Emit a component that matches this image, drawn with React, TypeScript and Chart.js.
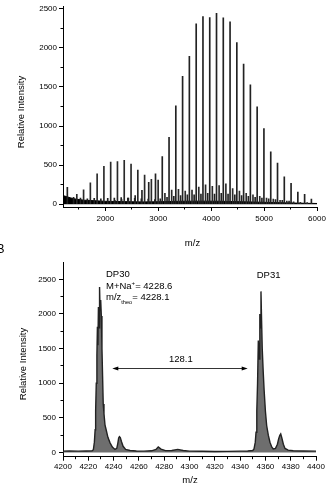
import React, { useEffect, useRef } from 'react';
import { Chart, registerables } from 'chart.js';

Chart.register(...registerables);

const FONT = '"Liberation Sans", Arial, Helvetica, sans-serif';

// ---------- Panel A: full MALDI spectrum ----------
const mainPeakMz = [1282, 2180, 2308, 2436, 2564, 2692, 2820, 2948, 3076, 3204, 3332, 3460, 3588, 3717, 3845, 3973, 4101, 4229, 4357, 4485, 4613, 4741, 4869, 4997, 5126, 5254, 5382, 5510, 5638, 5766, 5894];
const mainPeakIntensity = [217, 50, 60, 80, 110, 177, 279, 390, 609, 855, 1259, 1637, 1893, 2308, 2399, 2386, 2440, 2383, 2333, 2069, 1794, 1526, 1247, 967, 670, 526, 350, 267, 156, 127, 65];

const satPeakMz = [1461, 1589, 1717, 1845, 1973, 2101, 2229, 2357, 2486, 2614, 2742, 2870, 2998, 3126, 3254, 3382, 3510, 3638, 3766, 3894, 4022, 4150, 4278, 4406, 4534, 4662, 4790, 4918, 5046, 5174, 5302, 5430, 5558, 5686, 5814];
const satPeakIntensity = [127, 185, 275, 390, 485, 538, 547, 563, 514, 436, 374, 320, 309, 140, 180, 190, 170, 180, 220, 250, 230, 240, 260, 200, 170, 140, 120, 100, 80, 65, 50, 40, 30, 25, 20];

const smallPeakMz = [1400, 1530, 1660, 1790, 1915, 2045, 2170, 2300, 2425, 2555, 2680, 2810, 2935, 3038, 3166, 3294, 3422, 3550, 3678, 3807, 3935, 4063, 4191, 4319, 4447, 4575, 4703, 4831, 4959, 5087, 5216, 5344, 5472];
const smallPeakIntensity = [90, 80, 70, 75, 70, 75, 80, 85, 80, 75, 70, 65, 60, 70, 90, 100, 110, 120, 120, 130, 140, 130, 140, 130, 120, 110, 100, 90, 80, 70, 60, 50, 40];

const baselineMz = [1200, 1230, 1280, 1350, 1450, 1600, 1800, 2000, 2300, 2700, 3000, 3400, 3800, 4200, 4600, 5000, 5400, 5800, 6000];
const baselineIntensity = [120, 105, 95, 80, 65, 52, 45, 38, 34, 30, 32, 38, 40, 38, 32, 25, 18, 12, 10];

const topXTicks = [2000, 3000, 4000, 5000, 6000];
const topXMinor = [1500, 2500, 3500, 4500, 5500];
const topYTicks = [0, 500, 1000, 1500, 2000, 2500];
const topYMinor = [250, 750, 1250, 1750, 2250];

// ---------- Panel B: zoom on DP30 / DP31 ----------
const zoomMz = [4200, 4205, 4212, 4218, 4223, 4224, 4224.8, 4225.4, 4225.8, 4226.3, 4226.8, 4227.2, 4227.6, 4228.0, 4228.5, 4228.9, 4229.3, 4229.8, 4230.3, 4230.8, 4231.3, 4231.8, 4232.4, 4233.2, 4234.2, 4235.5, 4237.2, 4239, 4241.1, 4242.5, 4243.3, 4244.0, 4244.6, 4245.3, 4246.2, 4247.5, 4249.5, 4253, 4258, 4264, 4270, 4273.5, 4275.3, 4277.5, 4281, 4286, 4290.7, 4295, 4300, 4310, 4320, 4330, 4340, 4346, 4350, 4351, 4352, 4352.6, 4353.2, 4353.8, 4354.4, 4355, 4355.6, 4356.1, 4356.5, 4357, 4357.5, 4358.3, 4359, 4360, 4361, 4362.3, 4363.6, 4365, 4366.2, 4368, 4369.5, 4370.5, 4371.4, 4372.1, 4373, 4374.2, 4375.5, 4378, 4382, 4390, 4400];
const zoomIntensity = [20, 22, 20, 22, 24, 40, 150, 330, 600, 1000, 1400, 1815, 1550, 2100, 1800, 2389, 2050, 2200, 1970, 1500, 1100, 700, 560, 400, 322, 220, 140, 80, 45, 60, 130, 210, 230, 215, 160, 90, 45, 30, 22, 20, 25, 45, 81, 50, 28, 30, 45, 30, 20, 18, 15, 17, 20, 22, 30, 52, 150, 293, 600, 1000, 1618, 1350, 2000, 1800, 2326, 1900, 1500, 1160, 900, 600, 390, 250, 149, 80, 52, 60, 120, 200, 250, 269, 210, 120, 60, 35, 25, 22, 20];

const bottomXTicks = [4200, 4220, 4240, 4260, 4280, 4300, 4320, 4340, 4360, 4380, 4400];
const bottomXMinor = [4210, 4230, 4250, 4270, 4290, 4310, 4330, 4350, 4370, 4390];
const bottomYTicks = [0, 500, 1000, 1500, 2000, 2500];
const bottomYMinor = [250, 750, 1250, 1750, 2250];

const spacingFrom = 4239;
const spacingTo = 4346;
const spacingLevel = 1210;

const pts = (xs: number[], ys: number[]) => xs.map((x, i) => ({ x, y: ys[i] }));

const align = (p: number) => Math.round(p - 0.5) + 0.5;

const extrasPlugin = {
  id: 'extras',
  afterDraw(chart: any, _args: any, opts: any) {
    const { ctx, chartArea } = chart;
    const xs = chart.scales.x;
    const ys = chart.scales.y;
    ctx.save();
    ctx.strokeStyle = '#000';
    ctx.lineWidth = 1;
    for (const v of opts.minorX || []) {
      const px = align(xs.getPixelForValue(v));
      ctx.beginPath();
      ctx.moveTo(px, chartArea.bottom);
      ctx.lineTo(px, chartArea.bottom + 2.5);
      ctx.stroke();
    }
    for (const v of opts.minorY || []) {
      const py = align(ys.getPixelForValue(v));
      ctx.beginPath();
      ctx.moveTo(chartArea.left, py);
      ctx.lineTo(chartArea.left - 2.5, py);
      ctx.stroke();
    }
    if (opts.arrow) {
      const a = opts.arrow;
      const x1 = xs.getPixelForValue(a.from);
      const x2 = xs.getPixelForValue(a.to);
      const y = align(ys.getPixelForValue(a.level));
      ctx.lineWidth = 0.8;
      ctx.beginPath();
      ctx.moveTo(x1 + 3, y);
      ctx.lineTo(x2 - 3, y);
      ctx.stroke();
      ctx.fillStyle = '#000';
      ctx.beginPath();
      ctx.moveTo(x1, y);
      ctx.lineTo(x1 + 6, y - 2);
      ctx.lineTo(x1 + 6, y + 2);
      ctx.closePath();
      ctx.fill();
      ctx.beginPath();
      ctx.moveTo(x2, y);
      ctx.lineTo(x2 - 6, y - 2);
      ctx.lineTo(x2 - 6, y + 2);
      ctx.closePath();
      ctx.fill();
    }
    for (const t of opts.titles || []) {
      ctx.save();
      ctx.fillStyle = '#000';
      ctx.font = `${t.size}px ${FONT}`;
      ctx.textAlign = 'center';
      ctx.textBaseline = 'alphabetic';
      ctx.translate(t.x, t.y);
      if (t.rotate) ctx.rotate(-Math.PI / 2);
      ctx.fillText(t.text, 0, 0);
      ctx.restore();
    }
    ctx.restore();
  },
};

function xScale(min: number, max: number, ticks: number[], height: number, pad: number) {
  return {
    type: 'linear',
    min,
    max,
    offset: false,
    afterBuildTicks: (s: any) => {
      s.ticks = ticks.map((v) => ({ value: v }));
    },
    afterFit: (s: any) => {
      s.height = height;
    },
    grid: { display: true, drawOnChartArea: false, drawTicks: true, tickLength: 4, offset: false, color: '#000', tickColor: '#000', tickWidth: 1 },
    border: { display: true, color: '#000', width: 1 },
    ticks: { color: '#000', font: { family: FONT, size: 8 }, padding: pad, maxRotation: 0, autoSkip: false, callback: (v: any) => String(v) },
  };
}

function yScale(min: number, max: number, ticks: number[], width: number, pad: number) {
  return {
    type: 'linear',
    min,
    max,
    afterBuildTicks: (s: any) => {
      s.ticks = ticks.map((v) => ({ value: v }));
    },
    afterFit: (s: any) => {
      s.width = width;
    },
    grid: { display: true, drawOnChartArea: false, drawTicks: true, tickLength: 4, color: '#000', tickColor: '#000', tickWidth: 1 },
    border: { display: true, color: '#000', width: 1 },
    ticks: { color: '#000', font: { family: FONT, size: 8 }, padding: pad, autoSkip: false, callback: (v: any) => String(v) },
  };
}

export default function App() {
  const topRef = useRef<HTMLCanvasElement>(null);
  const botRef = useRef<HTMLCanvasElement>(null);

  useEffect(() => {
    const top = new Chart(topRef.current as HTMLCanvasElement, {
      type: 'bar',
      data: {
        datasets: [
          {
            type: 'line',
            data: pts(baselineMz, baselineIntensity),
            borderColor: '#000',
            backgroundColor: '#000',
            borderWidth: 1,
            pointRadius: 0,
            fill: 'origin',
            order: 4,
          } as any,
          { type: 'bar', data: pts(smallPeakMz, smallPeakIntensity), backgroundColor: '#222', barThickness: 1, grouped: false, order: 3 } as any,
          { type: 'bar', data: pts(satPeakMz, satPeakIntensity), backgroundColor: '#2a2a2a', barThickness: 1, grouped: false, order: 2 } as any,
          { type: 'bar', data: pts(mainPeakMz, mainPeakIntensity), backgroundColor: '#222', barThickness: 1, grouped: false, order: 1 } as any,
        ],
      },
      options: {
        responsive: false,
        maintainAspectRatio: false,
        animation: false,
        layout: { padding: { left: 0, right: 13, top: 0, bottom: 0 }, autoPadding: false } as any,
        plugins: {
          legend: { display: false },
          tooltip: { enabled: false },
          extras: {
            minorX: topXMinor,
            minorY: topYMinor,
            titles: [
              { text: 'Relative Intensity', x: 24, y: 112, rotate: true, size: 9.5 },
              { text: 'm/z', x: 192.5, y: 246, rotate: false, size: 9.5 },
            ],
          },
        } as any,
        scales: {
          x: xScale(1200, 6000, topXTicks, 43, 3) as any,
          y: yScale(-35, 2525, topYTicks, 63, 2) as any,
        },
      },
      plugins: [extrasPlugin as any],
    });

    const bottom = new Chart(botRef.current as HTMLCanvasElement, {
      type: 'line',
      data: {
        datasets: [
          {
            data: pts(zoomMz, zoomIntensity),
            borderColor: '#222',
            backgroundColor: 'rgba(85,85,85,0.85)',
            borderWidth: 1.4,
            pointRadius: 0,
            fill: 'origin',
            tension: 0,
          },
        ],
      },
      options: {
        responsive: false,
        maintainAspectRatio: false,
        animation: false,
        layout: { padding: { left: 0, right: 14, top: 12, bottom: 0 }, autoPadding: false } as any,
        plugins: {
          legend: { display: false },
          tooltip: { enabled: false },
          extras: {
            minorX: bottomXMinor,
            minorY: bottomYMinor,
            arrow: { from: spacingFrom, to: spacingTo, level: spacingLevel },
            titles: [
              { text: 'Relative Intensity', x: 26, y: 114, rotate: true, size: 9.5 },
              { text: 'm/z', x: 190, y: 232.7, rotate: false, size: 9.5 },
            ],
          },
        } as any,
        scales: {
          x: xScale(4200, 4400, bottomXTicks, 35.3, 1) as any,
          y: yScale(-60, 2750, bottomYTicks, 63, 3) as any,
        },
      },
      plugins: [extrasPlugin as any],
    });

    return () => {
      top.destroy();
      bottom.destroy();
    };
  }, []);

  const label = (left: number, top: number, size: number, content: React.ReactNode, key: string) => (
    <div
      key={key}
      style={{
        position: 'absolute',
        left,
        top,
        fontSize: size,
        lineHeight: `${size}px`,
        whiteSpace: 'nowrap',
        color: '#000',
        fontFamily: FONT,
      }}
    >
      {content}
    </div>
  );

  return (
    <div style={{ position: 'absolute', left: 0, top: 0, width: 330, height: 492, overflow: 'hidden', background: '#fff' }}>
      <canvas ref={topRef} width={330} height={250} style={{ position: 'absolute', left: 0, top: 0 }} />
      <canvas ref={botRef} width={330} height={242} style={{ position: 'absolute', left: 0, top: 250 }} />
      {label(-3.5, 243.3, 12, 'B', 'b')}
      {label(106, 269, 9.5, 'DP30', 'dp30')}
      {label(
        106,
        280.7,
        9.5,
        <>
          M+Na<span style={{ fontSize: 6, position: 'relative', top: -3.5 }}>+</span>= 4228.6
        </>,
        'mna'
      )}
      {label(
        106,
        291.7,
        9.5,
        <>
          m/z<span style={{ fontSize: 5.6, position: 'relative', top: 4 }}>theo</span>= 4228.1
        </>,
        'theo'
      )}
      {label(256.7, 270.4, 9.5, 'DP31', 'dp31')}
      {label(169, 354.4, 9.5, '128.1', 'gap')}
    </div>
  );
}
